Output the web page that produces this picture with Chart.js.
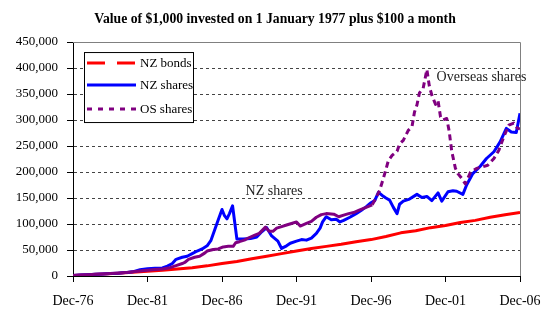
<!DOCTYPE html>
<html>
<head>
<meta charset="utf-8">
<script src="https://cdn.jsdelivr.net/npm/chart.js@4.4.1/dist/chart.umd.min.js"></script>
<style>
  html, body { margin: 0; padding: 0; background: #fff; }
  #wrap { width: 550px; height: 332px; }
</style>
</head>
<body>
<div id="wrap"><canvas id="chart" width="550" height="332"></canvas></div>
<script>
// x values are months since Dec-76
const tickLabels = ["Dec-76", "Dec-81", "Dec-86", "Dec-91", "Dec-96", "Dec-01", "Dec-06"];
const seriesNames = ["NZ bonds", "NZ shares", "OS shares"];

const bondMonths = [0, 12, 24, 36, 48, 60, 72, 84, 96, 108, 120, 132, 144, 156, 168, 180,
  192, 204, 216, 228, 240, 252, 264, 276, 288, 300, 312, 324, 336, 348, 360];
const bondValues = [1000, 2300, 3700, 5200, 7000, 9300, 11000, 13500, 16000, 19500, 24000, 28000,
  33000, 38000, 43000, 48000, 53000, 57000, 61000, 66000, 70000, 76000, 83000, 87000, 93000,
  97000, 103000, 107000, 113000, 118000, 122000];

const nzMonths = [0, 6, 12, 18, 24, 30, 36, 42, 48, 54, 60, 66, 72, 76, 80, 83, 88, 92, 96, 100,
  104, 108, 111, 114, 117, 120, 122, 124, 126, 128.5, 132, 137, 143, 148, 152, 156, 160, 165,
  168, 172, 175, 180, 184, 188, 192, 196, 199, 201, 204, 208, 212, 215, 218, 223, 228, 232,
  236, 240, 243, 246, 249, 252, 255, 258, 261, 263, 266, 271, 277, 281, 285, 289, 294, 297,
  302, 306, 309, 314, 317, 322, 328, 333, 339, 344, 349, 353, 357, 360];
const nzValues = [1000, 1800, 2500, 3300, 4000, 4800, 5500, 6500, 8000, 12000, 14000, 15000,
  15500, 19000, 24000, 32000, 36000, 38000, 43000, 48000, 52000, 58000, 68000, 88000, 108000,
  128000, 116000, 110000, 120000, 135000, 71000, 71000, 72000, 75000, 85000, 93000, 77000,
  67000, 53000, 58000, 63000, 67000, 70000, 69000, 73000, 82000, 92000, 104000, 114000,
  108000, 109000, 104000, 107000, 113000, 120000, 126000, 133000, 141000, 145000, 161000,
  155000, 150000, 146000, 132000, 120000, 138000, 144000, 148000, 157000, 151000, 153000,
  145000, 160000, 144000, 162000, 164000, 163000, 157000, 175000, 197000, 211000, 226000,
  239000, 258000, 284000, 277000, 276000, 313000];

const osMonths = [0, 6, 12, 18, 24, 30, 36, 42, 48, 54, 60, 66, 72, 78, 83, 88, 90, 93, 98, 102,
  106, 108, 113, 117, 121, 125, 129, 131, 134, 138, 142, 146, 150, 155, 158, 161, 164, 168,
  172, 176, 180, 183, 188, 192, 196, 200, 204, 210, 214, 218, 222, 226, 230, 234, 238, 241,
  244, 247, 250, 254, 257, 261, 263, 266, 270, 273, 275, 277, 279, 282, 285, 287, 289, 292,
  294, 296, 298, 301, 303, 305, 308, 310, 313, 316, 320, 325, 330, 334, 339, 343, 347, 351,
  355, 358, 360];
const osValues = [1000, 1700, 2400, 3200, 4000, 4800, 5500, 6500, 8000, 9500, 11000, 12500,
  13500, 16000, 20000, 24000, 26000, 32000, 36000, 38000, 44000, 48000, 51000, 52000, 56000,
  57000, 57000, 64000, 66000, 69000, 74000, 78000, 82000, 94000, 86000, 86000, 92000, 95000,
  98000, 101000, 104000, 96000, 101000, 105000, 113000, 118000, 120000, 119000, 114000,
  117000, 120000, 122000, 126000, 130000, 134000, 137000, 150000, 165000, 188000, 222000,
  232000, 240000, 254000, 261000, 280000, 287000, 315000, 329000, 352000, 361000, 397000,
  365000, 348000, 330000, 337000, 306000, 300000, 303000, 278000, 240000, 207000, 197000,
  188000, 177000, 199000, 207000, 210000, 213000, 226000, 242000, 268000, 290000, 294000,
  284000, 283000];

function toPoints(months, values) {
  return months.map((m, i) => ({ x: m, y: values[i] }));
}

const serif = "'Liberation Serif', 'DejaVu Serif', serif";

// legend samples (dash patterns as shown in the legend box)
const legendDash = [[18, 12], [], [5, 6]];

// white legend box inside the plot, top left
const legendBox = {
  id: "legendBox",
  afterDraw(chart) {
    const ctx = chart.ctx;
    const area = chart.chartArea;
    const bx = area.left + 11, by = area.top + 10;
    ctx.save();
    ctx.fillStyle = "#fff";
    ctx.fillRect(bx, by, 109, 70);
    ctx.strokeStyle = "#000";
    ctx.lineWidth = 1;
    ctx.strokeRect(bx + 0.5, by + 0.5, 109, 70);
    const rowY = [11, 33, 57];
    chart.data.datasets.forEach((ds, i) => {
      const y = by + rowY[i];
      ctx.strokeStyle = ds.borderColor;
      ctx.lineWidth = 3;
      ctx.lineCap = "butt";
      ctx.setLineDash(legendDash[i]);
      ctx.beginPath();
      ctx.moveTo(bx + 3, y);
      ctx.lineTo(bx + 52, y);
      ctx.stroke();
      ctx.setLineDash([]);
      ctx.fillStyle = "#000";
      ctx.font = "13px " + serif;
      ctx.textBaseline = "middle";
      ctx.fillText(ds.label, bx + 56, y + 1);
    });
    ctx.restore();
  }
};

// gray top and right frame of the plot area
const plotFrame = {
  id: "plotFrame",
  beforeDatasetsDraw(chart) {
    const ctx = chart.ctx;
    const a = chart.chartArea;
    ctx.save();
    ctx.strokeStyle = "#808080";
    ctx.lineWidth = 1;
    ctx.beginPath();
    ctx.moveTo(a.left, Math.round(a.top) + 0.5);
    ctx.lineTo(Math.round(a.right) + 0.5, Math.round(a.top) + 0.5);
    ctx.lineTo(Math.round(a.right) + 0.5, a.bottom);
    ctx.stroke();
    ctx.restore();
  }
};

// text labels on the plot
const notes = [
  { text: "NZ shares", month: 162, value: 162000 },
  { text: "Overseas shares", month: 329, value: 383000 }
];
const noteLabels = {
  id: "noteLabels",
  afterDraw(chart) {
    const ctx = chart.ctx;
    const xs = chart.scales.x, ys = chart.scales.y;
    ctx.save();
    ctx.fillStyle = "#222";
    ctx.font = "14px " + serif;
    ctx.textAlign = "center";
    ctx.textBaseline = "middle";
    notes.forEach(n => ctx.fillText(n.text, xs.getPixelForValue(n.month), ys.getPixelForValue(n.value)));
    ctx.restore();
  }
};

const chart = new Chart(document.getElementById("chart"), {
  type: "line",
  data: {
    datasets: [
      {
        label: seriesNames[0],
        data: toPoints(bondMonths, bondValues),
        borderColor: "#ff0000",
        order: 3
      },
      {
        label: seriesNames[1],
        data: toPoints(nzMonths, nzValues),
        borderColor: "#0000ff",
        order: 2
      },
      {
        label: seriesNames[2],
        data: toPoints(osMonths, osValues),
        borderColor: "#800080",
        order: 1,
        // looks solid where the monthly moves are small, dashed where they are large
        segment: {
          borderDash: c => (c.p0.parsed.y > 140000 || c.p1.parsed.y > 140000) ? [6, 4] : undefined
        }
      }
    ]
  },
  options: {
    responsive: false,
    devicePixelRatio: 1,
    animation: false,
    layout: { padding: 0 },
    elements: {
      point: { radius: 0 },
      line: { borderWidth: 3, tension: 0, fill: false, borderJoinStyle: "round", borderCapStyle: "butt" }
    },
    plugins: {
      legend: { display: false },
      tooltip: { enabled: false },
      title: {
        display: true,
        text: "Value of $1,000 invested on 1 January 1977 plus $100 a month",
        color: "#000",
        font: { family: serif, size: 13.7, weight: "bold" },
        padding: { top: 11, bottom: 14.6 }
      }
    },
    scales: {
      x: {
        type: "linear",
        min: 0,
        max: 360,
        afterFit: s => { s.height = 56; s.paddingRight = 30; },
        grid: { drawOnChartArea: false, drawTicks: true, tickLength: 6, tickColor: "#000" },
        border: { color: "#000", width: 1 },
        ticks: {
          stepSize: 60,
          autoSkip: false,
          maxRotation: 0,
          padding: 11,
          color: "#000",
          font: { family: serif, size: 14 },
          callback: v => tickLabels[v / 60]
        }
      },
      y: {
        min: 0,
        max: 450000,
        afterFit: s => { s.width = 73; },
        grid: {
          color: c => (c.tick && (c.tick.value === 0 || c.tick.value === 450000)) ? "rgba(0,0,0,0)" : "#444",
          lineWidth: 1,
          tickLength: 6,
          tickColor: "#000",
          tickBorderDash: []
        },
        border: { color: "#000", width: 1, dash: [3, 3] },
        ticks: {
          stepSize: 50000,
          padding: 9,
          color: "#000",
          font: { family: serif, size: 13 },
          callback: v => v.toLocaleString("en-US")
        }
      }
    }
  },
  plugins: [plotFrame, legendBox, noteLabels]
});
</script>
</body>
</html>
